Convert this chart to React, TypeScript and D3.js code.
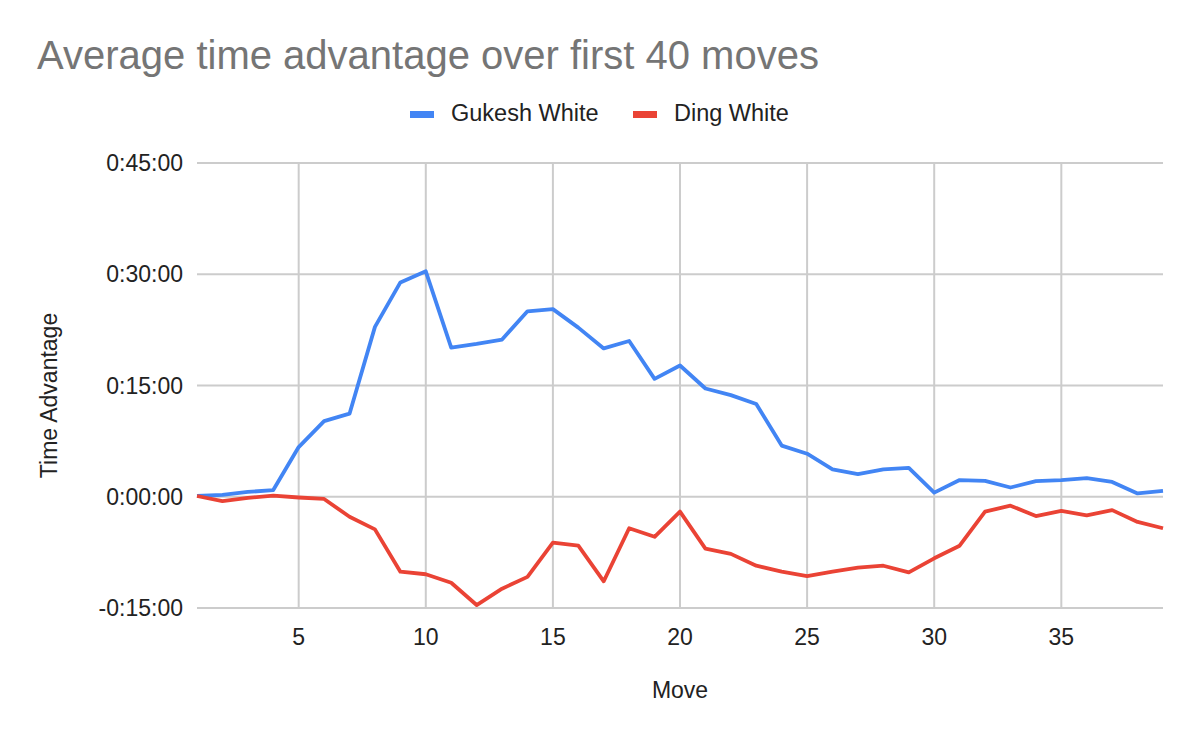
import React from 'react';
import * as d3 from 'd3';

// move numbers and average time advantage, in minutes
const moves = d3.range(1, 40);
const gukeshWhite = [
  0.1, 0.25, 0.65, 0.9, 6.7, 10.2, 11.2, 22.9, 28.9, 30.4,
  20.1, 20.6, 21.2, 25.0, 25.3, 22.8, 20.0, 21.0, 15.9, 17.7,
  14.6, 13.7, 12.5, 6.9, 5.8, 3.7, 3.05, 3.7, 3.9, 0.55,
  2.25, 2.15, 1.25, 2.1, 2.25, 2.5, 2.0, 0.45, 0.8,
];
const dingWhite = [
  0.1, -0.6, -0.15, 0.15, -0.1, -0.3, -2.7, -4.4, -10.1, -10.45,
  -11.6, -14.6, -12.4, -10.8, -6.2, -6.6, -11.4, -4.25, -5.4, -2.0,
  -7.0, -7.7, -9.3, -10.1, -10.7, -10.1, -9.55, -9.3, -10.2, -8.3,
  -6.6, -2.0, -1.2, -2.6, -1.9, -2.5, -1.8, -3.4, -4.25,
];
const yTicks = [-15, 0, 15, 30, 45];
const xTicks = [5, 10, 15, 20, 25, 30, 35];

const series = [
  { name: 'Gukesh White', values: gukeshWhite, color: '#4285F4' },
  { name: 'Ding White', values: dingWhite, color: '#EA4335' },
];

const W = 1200;
const H = 741;
const margin = { top: 163, right: 37, bottom: 133, left: 197 };
const font = '"Liberation Sans", Arial, sans-serif';

const fmt = (m: number) => {
  const sign = m < 0 ? '-' : '';
  const a = Math.abs(m);
  const h = Math.floor(a / 60);
  const mm = Math.floor(a % 60);
  return `${sign}${h}:${String(mm).padStart(2, '0')}:00`;
};

export default function App() {
  const x = d3.scaleLinear().domain([1, 39]).range([margin.left, W - margin.right]);
  const y = d3.scaleLinear().domain([-15, 45]).range([H - margin.bottom, margin.top]);
  const line = d3
    .line<number>()
    .x((_, i) => x(moves[i]))
    .y(d => y(d));

  const legendX = [410, 633];

  return (
    <svg
      width={W}
      height={H}
      style={{ position: 'absolute', left: 0, top: 0, background: '#fff' }}
      fontFamily={font}
    >
      <text x={37} y={69} fontSize={40} fill="#757575">
        Average time advantage over first 40 moves
      </text>

      {series.map((s, i) => (
        <g key={s.name}>
          <rect x={legendX[i]} y={111} width={24} height={7} fill={s.color} />
          <text x={legendX[i] + 41} y={121} fontSize={23.5} fill="#222">
            {s.name}
          </text>
        </g>
      ))}

      {yTicks.map(t => (
        <g key={t}>
          <line x1={margin.left} x2={W - margin.right} y1={y(t)} y2={y(t)} stroke="#cccccc" strokeWidth={2} />
          <text x={183} y={y(t) + 8} textAnchor="end" fontSize={23} fill="#222">
            {fmt(t)}
          </text>
        </g>
      ))}
      {xTicks.map(t => (
        <g key={t}>
          <line x1={x(t)} x2={x(t)} y1={y(45)} y2={y(-15)} stroke="#cccccc" strokeWidth={2} />
          <text x={x(t)} y={645} textAnchor="middle" fontSize={23} fill="#222">
            {t}
          </text>
        </g>
      ))}

      {series.map(s => (
        <path
          key={s.name}
          d={line(s.values) || ''}
          fill="none"
          stroke={s.color}
          strokeWidth={3.8}
          strokeLinejoin="round"
        />
      ))}

      <text x={680} y={698} textAnchor="middle" fontSize={23} fill="#222">
        Move
      </text>
      <text
        transform={`translate(57,${(y(45) + y(-15)) / 2 + 10}) rotate(-90)`}
        textAnchor="middle"
        fontSize={23}
        fill="#222"
      >
        Time Advantage
      </text>
    </svg>
  );
}
